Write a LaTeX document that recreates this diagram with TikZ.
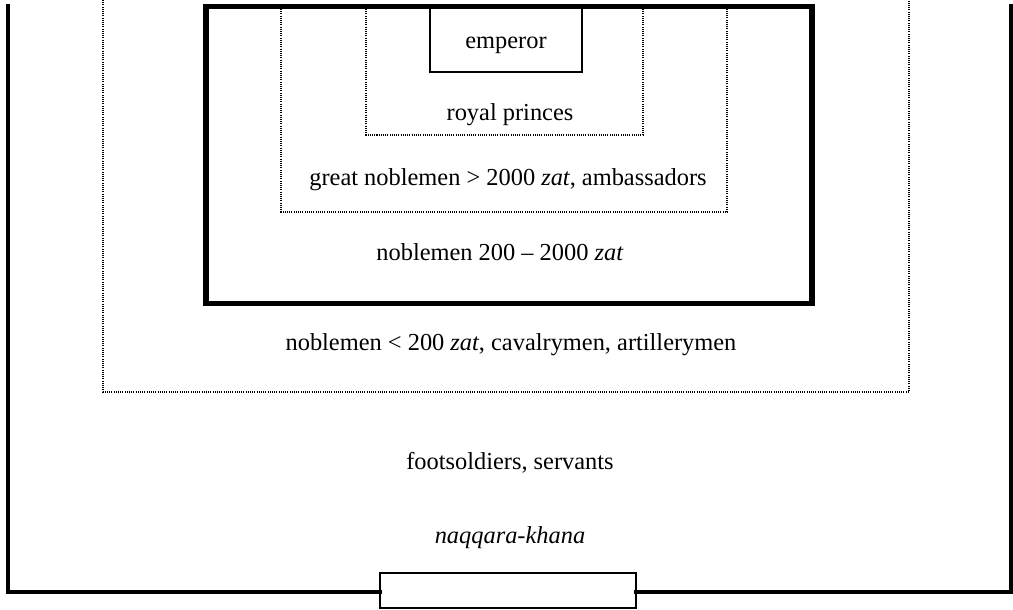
\documentclass[tikz,border=0pt]{standalone}
\usepackage{fontspec}
\setmainfont{Liberation Serif}
\begin{document}
\begin{tikzpicture}[x=0.5pt,y=-0.5pt,
  lbl/.style={inner sep=0pt,anchor=base,font=\fontsize{12.2}{14}\selectfont},
  wall/.style={line width=2pt,line cap=rect,line join=miter},
  court/.style={line width=2.6pt,line join=miter},
  thin/.style={line width=0.7pt},
  dots/.style={line width=0.6pt,dash pattern=on 0.55pt off 0.55pt}]
\useasboundingbox (0,0) rectangle (1013,610);
% outer wall
\coordinate (gl) at (380,592);
\coordinate (gr) at (636,592);
\draw[wall] (8,6) -- (8,592) -- (gl);
\draw[wall] (gr) -- (1011,592) -- (1011,6);
% gate
\node[thin,draw,minimum width=128pt,minimum height=17.5pt,inner sep=0pt] (gate) at (508,590.5) {};
% outer dotted enclosure
\draw[dots] (103,0) -- (103,392) -- (909,392) -- (909,0);
% inner court
\draw[court] (206,6.5) rectangle (812,303.5);
% great noblemen enclosure
\draw[dots] (281,9) -- (281,212) -- (727,212) -- (727,9);
% royal princes enclosure
\draw[dots] (366,9) -- (366,135) -- (643,135) -- (643,9);
% emperor box
\draw[thin] (430,9) -- (430,72) -- (582,72) -- (582,9);
% labels
\node[lbl] (emp) at (506,49) {emperor};
\node[lbl] (rp) at (510,121) {royal princes};
\node[lbl] (gn) at (508,185) {great noblemen > 2000 \textit{zat}, ambassadors};
\node[lbl] (nm) at (500,261) {noblemen 200 -- 2000 \textit{zat}};
\node[lbl] (nl) at (511,350) {noblemen < 200 \textit{zat}, cavalrymen, artillerymen};
\node[lbl] (fs) at (510,469) {footsoldiers, servants};
\node[lbl] (nk) at (510,543) {\textit{naqqara-khana}};
\end{tikzpicture}
\end{document}
